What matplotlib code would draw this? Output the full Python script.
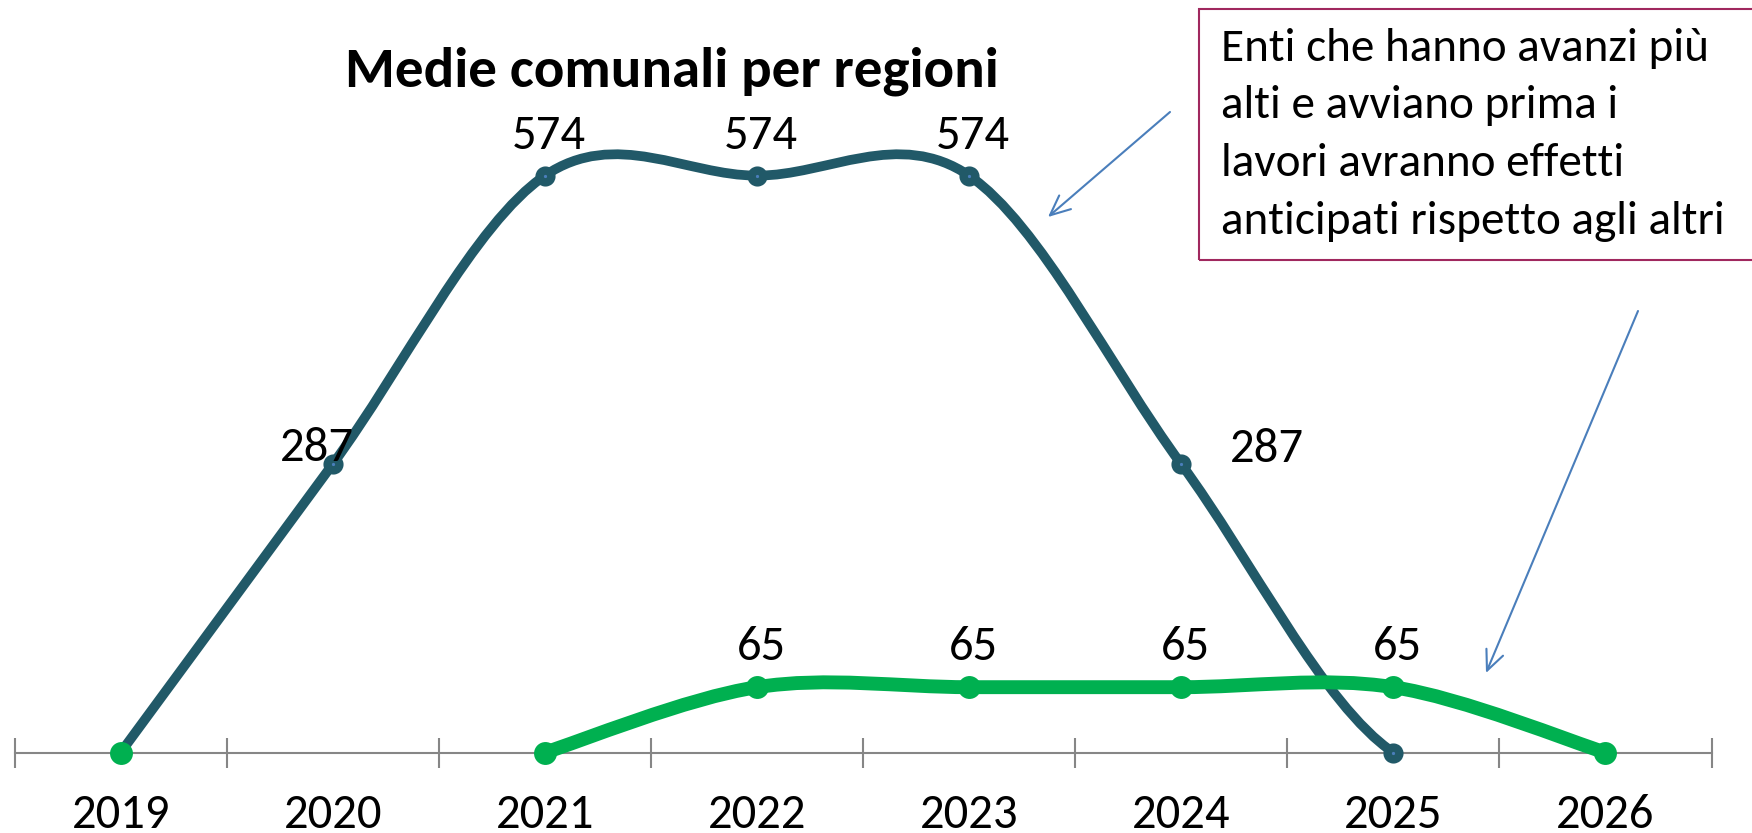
import numpy as np
import matplotlib
matplotlib.use('Agg')
import matplotlib.pyplot as plt
from matplotlib.path import Path
from matplotlib.patches import PathPatch, Rectangle

plt.rcParams['font.family'] = ['Carlito', 'DejaVu Sans']

# data
years = ['2019', '2020', '2021', '2022', '2023', '2024', '2025', '2026']
serie_alta = [0, 287, 574, 574, 574, 287, 0, None]
serie_bassa = [0, None, 0, 65, 65, 65, 65, 0]
title = 'Medie comunali per regioni'
note_lines = ['Enti che hanno avanzi più',
              'alti e avviano prima i',
              'lavori avranno effetti',
              'anticipati rispetto agli altri']

# label offsets in pixels (dx, dy) for the points that carry a value label
off_alta = {1: (-16, 3), 2: (4, 27), 3: (4, 27), 4: (4, 27), 5: (86, 2)}
off_bassa = {3: (4, 27), 4: (4, 27), 5: (4, 27), 6: (4, 27)}

C_DARK = '#215968'
C_GREEN = '#00B050'
C_AXIS = '#868686'
C_ARROW = '#4A7EBB'
C_BOX = '#A0285E'


def runs(vals):
    # consecutive non-missing points
    out, cur = [], []
    for i, v in enumerate(vals):
        if v is None:
            if cur:
                out.append(cur)
            cur = []
        else:
            cur.append((i, v))
    if cur:
        out.append(cur)
    return out


def smooth_path(pts, flat_end=False):
    # excel-like smoothed line: cubic bezier with catmull-rom tangents
    pts = np.array(pts, dtype=float)
    n = len(pts)
    verts = [pts[0]]
    codes = [Path.MOVETO]
    for i in range(n - 1):
        p0 = pts[i - 1] if i > 0 else pts[i]
        p1 = pts[i]
        p2 = pts[i + 1]
        if i + 2 < n:
            p3 = pts[i + 2]
        elif flat_end:
            p3 = p2 + np.array([1.0, 0.0])
        else:
            p3 = p2
        verts += [p1 + (p2 - p0) / 6, p2 - (p3 - p1) / 6, p2]
        codes += [Path.CURVE4] * 3
    return Path(verts, codes)


fig = plt.figure(figsize=(17.52, 8.33), dpi=100)
W, H = 1752, 833
ax = fig.add_axes([14.6 / W, 80.5 / H, (1711.5 - 14.6) / W, 703.5 / H])
ax.set_xlim(-0.5, 7.5)
ax.set_ylim(0, 700)

for s in ['top', 'right', 'left']:
    ax.spines[s].set_visible(False)
ax.spines['bottom'].set_color(C_AXIS)
ax.spines['bottom'].set_linewidth(1.5)
ax.set_yticks([])
ax.set_xticks(np.arange(-0.5, 8, 1))
ax.tick_params(axis='x', direction='inout', length=21.6, width=1.5, color=C_AXIS, labelbottom=False)

for vals, color, lw, ms, mew, mfc, z, flat in [(serie_alta, C_DARK, 7, 8.5, 6, C_ARROW, 3, True),
                                               (serie_bassa, C_GREEN, 10, 16.5, 0, C_GREEN, 5, False)]:
    for run in runs(vals):
        if len(run) > 1:
            ax.add_patch(PathPatch(smooth_path(run, flat), fill=False, edgecolor=color, lw=lw,
                                   capstyle='round', joinstyle='round', zorder=z, clip_on=False))
        xs = [p[0] for p in run]
        ys = [p[1] for p in run]
        ax.plot(xs, ys, linestyle='none', marker='o', ms=ms, mfc=mfc, mec=color,
                mew=mew, zorder=z + 1, clip_on=False)

for vals, offs in [(serie_alta, off_alta), (serie_bassa, off_bassa)]:
    for i, (dx, dy) in offs.items():
        ax.annotate(str(vals[i]), xy=(i, vals[i]), xytext=(dx, dy), textcoords='offset pixels',
                    ha='center', va='baseline', fontsize=35, color='black', zorder=10)

# category labels under the axis
for i, y in enumerate(years):
    ax.annotate(y, xy=(i, 0), xytext=(0, -76), textcoords='offset pixels',
                ha='center', va='baseline', fontsize=35, color='black', annotation_clip=False)

fig.text(672 / W, 1 - 86 / H, title, ha='center', va='baseline', fontsize=41, fontweight='bold')

# note box
fig.add_artist(Rectangle((1199 / W, 1 - 260 / H), (W + 10 - 1199) / W, 251 / H,
                         transform=fig.transFigure, fill=False, edgecolor=C_BOX, lw=1.5))
for k, line in enumerate(note_lines):
    fig.text(1221 / W, 1 - (61 + 57.5 * k) / H, line, ha='left', va='baseline', fontsize=34)

# arrows
for start, end in [((1170, 112), (1048, 217)), ((1638, 311), (1486, 673))]:
    ax.annotate('', xy=(end[0], H - end[1]), xycoords='figure pixels',
                xytext=(start[0], H - start[1]), textcoords='figure pixels',
                arrowprops=dict(arrowstyle='->,head_length=0.4,head_width=0.18',
                                color=C_ARROW, lw=1.5, mutation_scale=36,
                                shrinkA=0, shrinkB=0))

fig.savefig('out.png', dpi=100)
